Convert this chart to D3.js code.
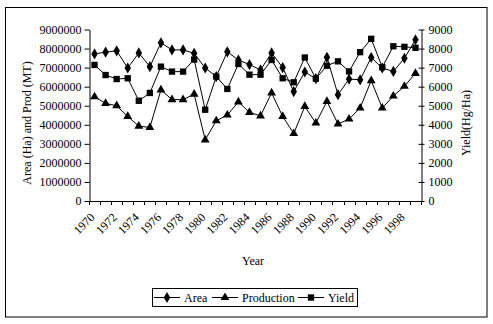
<!DOCTYPE html>
<html>
<head>
<meta charset="utf-8">
<script src="https://cdn.jsdelivr.net/npm/d3@7"></script>
<style>
  html, body { margin: 0; padding: 0; background: #fff; }
  svg { display: block; }
  text { font-family: "Liberation Serif", "Times New Roman", serif; font-size: 12px; fill: #000; }
</style>
</head>
<body>
<svg id="chart" width="493" height="324"></svg>
<script>
const years = d3.range(1970, 2000);
const area = [7720000, 7810000, 7880000, 6980000, 7770000, 7050000, 8300000, 7930000, 7930000, 7750000,
              6980000, 6530000, 7830000, 7400000, 7160000, 6880000, 7770000, 7000000, 5740000, 6770000,
              6420000, 7540000, 5580000, 6400000, 6360000, 7530000, 6980000, 6800000, 7490000, 8460000];
const production = [5470000, 5120000, 5000000, 4440000, 3930000, 3860000, 5830000, 5320000, 5320000, 5610000,
                    3210000, 4210000, 4510000, 5200000, 4650000, 4470000, 5670000, 4440000, 3540000, 4960000,
                    4090000, 5230000, 4040000, 4300000, 4880000, 6320000, 4880000, 5510000, 6020000, 6700000];
const yieldV = [7140, 6610, 6400, 6440, 5260, 5670, 7050, 6790, 6790, 7420,
                4790, 6530, 5880, 7190, 6630, 6630, 7400, 6440, 6230, 7530,
                6420, 7100, 7330, 6800, 7810, 8510, 7020, 8120, 8090, 8040];
const leftTicks = d3.range(0, 9000001, 1000000);
const rightTicks = d3.range(0, 9001, 1000);
const labelYears = years.filter(y => y % 2 === 0);
const seriesNames = ["Area", "Production", "Yield"];

const svg = d3.select("#chart");
const L = 89, R = 421, T = 29.5, B = 201;

// outer frame
svg.append("rect").attr("x", 5.5).attr("y", 7.5).attr("width", 481.5).attr("height", 309.5)
  .attr("fill", "none").attr("stroke", "#000").attr("stroke-width", 1);

const x = d3.scaleBand().domain(years).range([L, R]).padding(0);
const yL = d3.scaleLinear().domain([0, 9000000]).range([B, T]);
const yR = d3.scaleLinear().domain([0, 9000]).range([B, T]);
const cx = d => x(d) + x.bandwidth() / 2;

// left axis
const gl = svg.append("g").attr("transform", `translate(${L + 0.5},0)`)
  .call(d3.axisLeft(yL).tickValues(leftTicks).tickSize(5).tickSizeOuter(0).tickPadding(3).tickFormat(d3.format("d")));
gl.select(".domain").attr("stroke", "#000");
gl.selectAll(".tick line").attr("stroke", "#000");
gl.selectAll("text").style("font-size", "12px").style("font-family", "Liberation Serif, serif");

// right axis
const gr = svg.append("g").attr("transform", `translate(${R + 0.5},0)`)
  .call(d3.axisRight(yR).tickValues(rightTicks).tickSize(3).tickSizeOuter(0).tickPadding(4).tickFormat(d3.format("d")));
gr.select(".domain").attr("stroke", "#000");
gr.selectAll(".tick line").attr("stroke", "#000").attr("x1", -3);
gr.selectAll("text").style("font-size", "12px").style("font-family", "Liberation Serif, serif");

// bottom axis line and ticks at category boundaries
svg.append("line").attr("x1", L).attr("x2", R + 1).attr("y1", B + 0.5).attr("y2", B + 0.5).attr("stroke", "#000");
const boundaries = years.map(d => x(d)).concat([R]);
svg.append("g").selectAll("line").data(boundaries).join("line")
  .attr("x1", d => Math.round(d) + 0.5).attr("x2", d => Math.round(d) + 0.5)
  .attr("y1", B).attr("y2", B + 4).attr("stroke", "#000");

// bottom labels
svg.append("g").selectAll("text").data(labelYears).join("text")
  .attr("transform", d => `translate(${cx(d) - 2},${B + 14}) rotate(-45)`)
  .attr("text-anchor", "end").attr("dy", "0.35em")
  .text(d => d);

// axis titles
svg.append("text").attr("x", 253).attr("y", 265).attr("text-anchor", "middle").text("Year");
svg.append("text").attr("transform", `translate(31,123) rotate(-90)`)
  .attr("text-anchor", "middle").text("Area (Ha) and Prod (MT)");
svg.append("text").attr("transform", `translate(470,123) rotate(-90)`)
  .attr("text-anchor", "middle").text("Yield(Hg/Ha)");

// series
const lineL = d3.line().x((d, i) => cx(years[i])).y(d => yL(d));
const lineR = d3.line().x((d, i) => cx(years[i])).y(d => yR(d));
const symDia = d3.symbol().type(d3.symbolDiamond).size(36);
const symTri = d3.symbol().type(d3.symbolTriangle).size(34);
const symSq = d3.symbol().type(d3.symbolSquare).size(40);

function drawSeries(vals, lineGen, yScale, sym) {
  svg.append("path").datum(vals).attr("d", lineGen).attr("fill", "none").attr("stroke", "#000").attr("stroke-width", 1);
  svg.append("g").selectAll("path").data(vals).join("path")
    .attr("transform", (d, i) => `translate(${cx(years[i])},${yScale(d)})`)
    .attr("d", sym).attr("fill", "#000");
}
drawSeries(area, lineL, yL, symDia);
drawSeries(production, lineL, yL, symTri);
drawSeries(yieldV, lineR, yR, symSq);

// legend
const lg = svg.append("g");
lg.append("rect").attr("x", 152.5).attr("y", 288.5).attr("width", 205).attr("height", 18)
  .attr("fill", "#fff").attr("stroke", "#000");
const legendItems = [
  { name: seriesNames[0], x0: 154, sym: symDia },
  { name: seriesNames[1], x0: 212, sym: symTri },
  { name: seriesNames[2], x0: 298, sym: symSq }
];
legendItems.forEach(it => {
  lg.append("line").attr("x1", it.x0).attr("x2", it.x0 + 26).attr("y1", 297.5).attr("y2", 297.5).attr("stroke", "#000");
  lg.append("path").attr("transform", `translate(${it.x0 + 13},297.5)`).attr("d", it.sym).attr("fill", "#000");
  lg.append("text").attr("x", it.x0 + 30).attr("y", 297.5).attr("dy", "0.35em").text(it.name);
});
</script>
</body>
</html>
